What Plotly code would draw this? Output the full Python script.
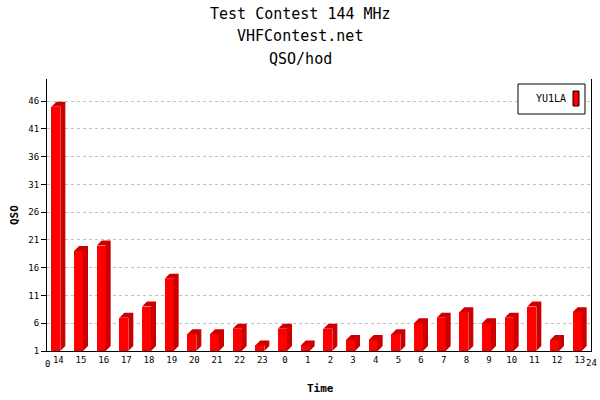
import plotly.graph_objects as go

# ---- data ----
hours = ["14", "15", "16", "17", "18", "19", "20", "21", "22", "23",
         "0", "1", "2", "3", "4", "5", "6", "7", "8", "9", "10", "11", "12", "13"]
qso = [45, 19, 20, 7, 9, 14, 4, 4, 5, 2, 5, 2, 5, 3, 3, 4, 6, 7, 8, 6, 7, 9, 3, 8]
y_ticks = [1, 6, 11, 16, 21, 26, 31, 36, 41, 46]
series_name = "YU1LA"

# ---- geometry (pixel-based for 3D look) ----
W, H = 600, 400
ML, MR, MT, MB = 47, 9, 79, 49
XMIN, XMAX = 0, 24
YMIN, YMAX = 1, 50
px_x = (W - ML - MR) / (XMAX - XMIN)
px_y = (H - MT - MB) / (YMAX - YMIN)
face_w = 9 / px_x
depth_x = 5 / px_x
depth_y = 5 / px_y
shift = -2.5 / px_x

centers = [i + 0.5 for i in range(len(hours))]
front_x = [c + shift for c in centers]

# side + top faces polygons computed from data
px, py = [], []
for fx, v in zip(front_x, qso):
    x0 = fx - face_w / 2
    x1 = fx + face_w / 2
    px += [x0, x0 + depth_x, x1 + depth_x, x1 + depth_x, x1, x1, x0, None]
    py += [v, v + depth_y, v + depth_y, YMIN + depth_y, YMIN, v, v, None]

fig = go.Figure()
fig.add_trace(go.Scatter(
    x=px, y=py, mode="lines", fill="toself", fillcolor="#cc0000",
    line=dict(width=0, color="#cc0000"), hoverinfo="skip", showlegend=False))
fig.add_trace(go.Bar(
    x=front_x, y=qso, width=face_w, marker=dict(color="#ff0000", line=dict(width=0)),
    name=series_name, showlegend=False))

mono = "DejaVu Sans Mono"
fig.update_layout(
    width=W, height=H,
    margin=dict(l=ML, r=MR, t=MT, b=MB, pad=0),
    paper_bgcolor="white", plot_bgcolor="white",
    font=dict(family=mono, size=9, color="black"),
    bargap=0,
    xaxis=dict(range=[XMIN, XMAX], tickvals=centers, ticktext=hours,
               showgrid=False, zeroline=False, showline=True, linecolor="black",
               linewidth=1, ticks="", tickfont=dict(family=mono, size=9)),
    yaxis=dict(range=[YMIN, YMAX], tickvals=y_ticks, showgrid=True,
               gridcolor="#c0c0c0", griddash="3px,3px", gridwidth=1,
               zeroline=False, showline=True, linecolor="black", linewidth=1,
               mirror=True, ticks="outside", ticklen=5, tickcolor="black",
               tickfont=dict(family=mono, size=9)),
)

def py_paper(Y):
    return (H - MB - Y) / (H - MT - MB)

def px_paper(X):
    return (X - ML) / (W - ML - MR)

def note(text, X, Y, size, angle=0):
    fig.add_annotation(text=text, x=px_paper(X), xref="paper", xanchor="center",
                       y=py_paper(Y), yref="paper", yanchor="middle",
                       textangle=angle, showarrow=False,
                       font=dict(family=mono, size=size, color="black"))

titles = [("Test Contest 144 MHz", 14), ("VHFContest.net", 36), ("QSO/hod", 59)]
for t, Y in titles:
    note(t, 300, Y, 15)

note("<b>QSO</b>", 14, 215, 11, -90)
note("<b>Time</b>", 320, 388, 11)
note("0", 47, 364, 9)
note("24", 591, 363, 9)

# legend box
fig.add_shape(type="rect", xref="paper", yref="paper",
              x0=px_paper(518), x1=px_paper(585), y0=py_paper(114), y1=py_paper(84),
              line=dict(color="black", width=1), fillcolor="white", layer="above")
note(series_name, 551, 99, 10)
fig.add_shape(type="rect", xref="paper", yref="paper",
              x0=px_paper(573), x1=px_paper(579), y0=py_paper(106), y1=py_paper(91),
              line=dict(color="black", width=1), fillcolor="#ff0000", layer="above")

fig.write_html("out.html", config={"displayModeBar": False},
               post_script="document.body.style.margin='0';")
